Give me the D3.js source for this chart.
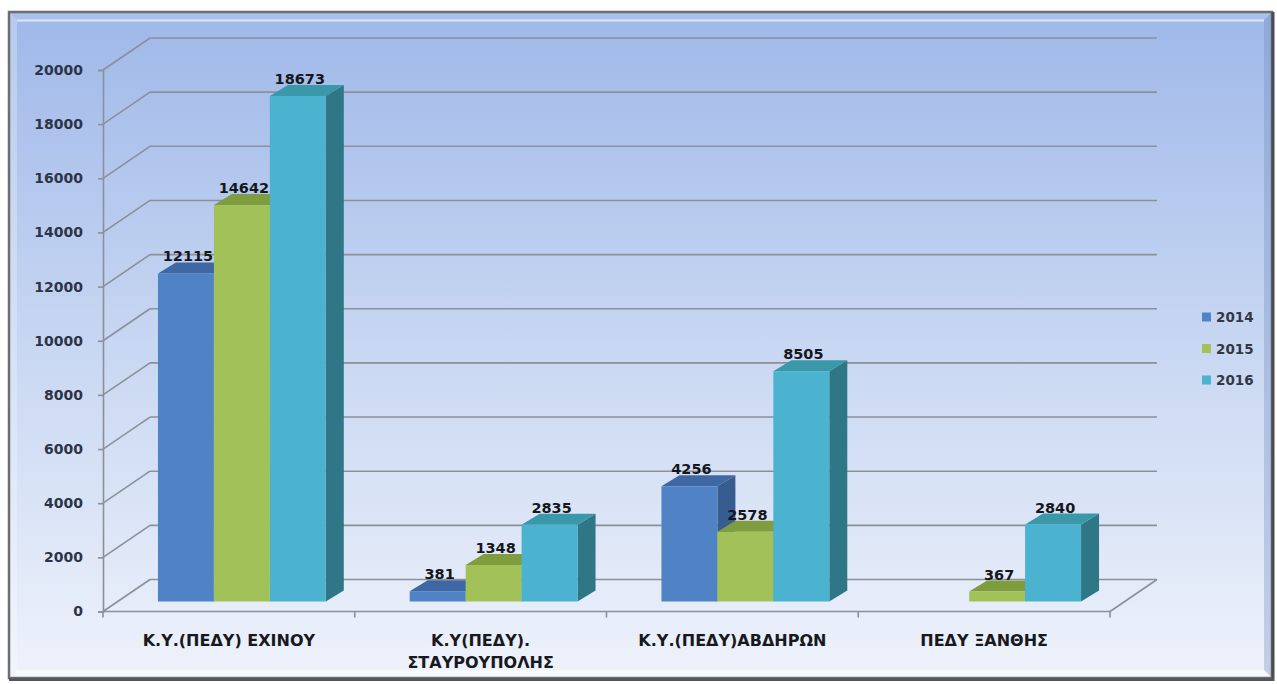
<!DOCTYPE html>
<html>
<head>
<meta charset="utf-8">
<script src="https://cdn.jsdelivr.net/npm/d3@7"></script>
<style>
  html, body { margin: 0; padding: 0; background: #ffffff; }
  svg { display: block; }
</style>
</head>
<body>
<svg id="chart" width="1277" height="684"></svg>
<script>
// ---- data ----
const categoryLines = [
  ["Κ.Υ.(ΠΕΔΥ) ΕΧΙΝΟΥ"],
  ["Κ.Υ(ΠΕΔΥ).", "ΣΤΑΥΡΟΥΠΟΛΗΣ"],
  ["Κ.Υ.(ΠΕΔΥ)ΑΒΔΗΡΩΝ"],
  ["ΠΕΔΥ ΞΑΝΘΗΣ"]
];
const categories = categoryLines.map(l => l.join(" "));
const years = ["2014", "2015", "2016"];
const values2014 = [12115, 381, 4256, null];
const values2015 = [14642, 1348, 2578, 367];
const values2016 = [18673, 2835, 8505, 2840];
const yTicks = [0, 2000, 4000, 6000, 8000, 10000, 12000, 14000, 16000, 18000, 20000];

const seriesValues = [values2014, values2015, values2016];

// face colours per series: front, top, side
const palette = {
  "2014": { front: "#4f83c6", top: "#3e67a3", side: "#375d90" },
  "2015": { front: "#a2c259", top: "#7f9c3e", side: "#6d8834" },
  "2016": { front: "#4bb3cf", top: "#3a98a8", side: "#2f7687" }
};

// ---- layout ----
const svg = d3.select("#chart");

const plotLeft = 103, plotRight = 1110;
const wallDepth = { dx: 47, dy: -32 };     // offset of back wall from front plane
const barFront = { dx: 13, dy: -10 };      // bar front face offset from front plane
const barDepth = { dx: 18, dy: -11 };      // bar thickness in depth

const x = d3.scaleBand().domain(categories).range([plotLeft, plotRight]).padding(0);
const xInner = d3.scaleBand().domain(years).range([0, x.bandwidth()]).paddingInner(0).paddingOuter(0.75);
const y = d3.scaleLinear().domain([0, 20000]).range([611.5, 70]);

// ---- frame & background ----
const defs = svg.append("defs");
const bg = defs.append("linearGradient").attr("id", "bg").attr("x1", 0).attr("y1", 0).attr("x2", 0).attr("y2", 1);
bg.append("stop").attr("offset", "0%").attr("stop-color", "#9fb8e9");
bg.append("stop").attr("offset", "45%").attr("stop-color", "#c4d4f1");
bg.append("stop").attr("offset", "100%").attr("stop-color", "#eef2fb");

const fx0 = 9, fy0 = 12, fx1 = 1272, fy1 = 678, bev = 8;
svg.append("rect")
  .attr("x", fx0).attr("y", fy0).attr("width", fx1 - fx0).attr("height", fy1 - fy0)
  .attr("fill", "url(#bg)");

// bevel strips round the inner edge
const bevel = [
  { pts: [[fx0, fy0], [fx1, fy0], [fx1 - bev, fy0 + bev], [fx0 + bev, fy0 + bev]], fill: "#a9c0ec", op: 1 },
  { pts: [[fx0, fy0], [fx0 + bev, fy0 + bev], [fx0 + bev, fy1 - bev], [fx0, fy1]], fill: "#ffffff", op: 0.25 },
  { pts: [[fx1, fy0], [fx1, fy1], [fx1 - bev, fy1 - bev], [fx1 - bev, fy0 + bev]], fill: "#6f8cc4", op: 0.35 },
  { pts: [[fx0, fy1], [fx0 + bev, fy1 - bev], [fx1 - bev, fy1 - bev], [fx1, fy1]], fill: "#ffffff", op: 0.55 }
];
svg.append("g").selectAll("polygon").data(bevel).join("polygon")
  .attr("points", d => d.pts.map(p => p.join(",")).join(" "))
  .attr("fill", d => d.fill).attr("fill-opacity", d => d.op);
svg.append("line")
  .attr("x1", fx0 + bev).attr("x2", fx1 - bev).attr("y1", fy0 + bev + 0.5).attr("y2", fy0 + bev + 0.5)
  .attr("stroke", "#dbe6fb").attr("stroke-width", 2);

svg.append("rect")
  .attr("x", fx0).attr("y", fy0).attr("width", fx1 - fx0).attr("height", fy1 - fy0)
  .attr("fill", "none").attr("stroke", "#6c6e72").attr("stroke-width", 2.5);
svg.append("line").attr("x1", fx1 + 1).attr("x2", fx1 + 1).attr("y1", fy0).attr("y2", fy1 + 3)
  .attr("stroke", "#4a4c50").attr("stroke-width", 3);
svg.append("line").attr("x1", fx0).attr("x2", fx1 + 2).attr("y1", fy1 + 1.5).attr("y2", fy1 + 1.5)
  .attr("stroke", "#55575b").attr("stroke-width", 3);

// ---- walls & gridlines ----
const gridColor = "#8b9099";
const grid = svg.append("g").attr("fill", "none").attr("stroke", gridColor).attr("stroke-width", 1.6);

// back wall horizontal lines
grid.selectAll("line.back").data(yTicks).join("line").attr("class", "back")
  .attr("x1", plotLeft + wallDepth.dx).attr("x2", plotRight + wallDepth.dx)
  .attr("y1", d => y(d) + wallDepth.dy).attr("y2", d => y(d) + wallDepth.dy);
// side wall diagonals
grid.selectAll("line.side").data(yTicks).join("line").attr("class", "side")
  .attr("x1", plotLeft).attr("x2", plotLeft + wallDepth.dx)
  .attr("y1", d => y(d)).attr("y2", d => y(d) + wallDepth.dy);
// floor: front edge and right edge
grid.append("line")
  .attr("x1", plotLeft).attr("x2", plotRight).attr("y1", y(0)).attr("y2", y(0));
grid.append("line")
  .attr("x1", plotRight).attr("x2", plotRight + wallDepth.dx)
  .attr("y1", y(0)).attr("y2", y(0) + wallDepth.dy);

// ---- y axis ----
const yAxis = d3.axisLeft(y).tickValues(yTicks).tickSize(5).tickPadding(15).tickFormat(d3.format("d"));
const yAxisG = svg.append("g").attr("transform", `translate(${plotLeft},0)`).call(yAxis);
yAxisG.select(".domain").attr("stroke", gridColor).attr("stroke-width", 1.6);
yAxisG.selectAll(".tick line").attr("stroke", gridColor).attr("stroke-width", 1.6);
yAxisG.selectAll(".tick text")
  .attr("fill", "#2c3448")
  .style("font-family", "'DejaVu Sans', sans-serif")
  .style("font-weight", "bold")
  .style("font-size", "14px");

// category boundary ticks below the floor
const boundaries = categories.map(c => x(c)).concat([plotRight]);
grid.selectAll("line.ctick").data(boundaries).join("line").attr("class", "ctick")
  .attr("x1", d => d).attr("x2", d => d).attr("y1", y(0)).attr("y2", y(0) + 6);

// ---- bars ----
const bars = [];
categories.forEach((c, ci) => {
  years.forEach((yr, si) => {
    const v = seriesValues[si][ci];
    if (v == null) return;
    bars.push({ cat: c, year: yr, value: v });
  });
});

const barG = svg.append("g");
bars.forEach(b => {
  const x0 = x(b.cat) + xInner(b.year) + barFront.dx;
  const x1 = x0 + xInner.bandwidth();
  const yb = y(0) + barFront.dy;
  const yt = y(b.value) + barFront.dy;
  const dx = barDepth.dx, dy = barDepth.dy;
  const col = palette[b.year];
  const g = barG.append("g");
  // right side face
  g.append("polygon")
    .attr("points", [[x1, yb], [x1, yt], [x1 + dx, yt + dy], [x1 + dx, yb + dy]].map(p => p.join(",")).join(" "))
    .attr("fill", col.side);
  // top face
  g.append("polygon")
    .attr("points", [[x0, yt], [x1, yt], [x1 + dx, yt + dy], [x0 + dx, yt + dy]].map(p => p.join(",")).join(" "))
    .attr("fill", col.top);
  // front face
  g.append("rect")
    .attr("x", x0).attr("y", yt).attr("width", x1 - x0).attr("height", yb - yt)
    .attr("fill", col.front);
});

// value labels
svg.append("g").selectAll("text").data(bars).join("text")
  .attr("x", d => x(d.cat) + xInner(d.year) + barFront.dx + xInner.bandwidth() / 2 + 2)
  .attr("y", d => y(d.value) + barFront.dy - 12)
  .attr("text-anchor", "middle")
  .attr("fill", "#15171c")
  .style("font-family", "'DejaVu Sans', sans-serif")
  .style("font-weight", "bold")
  .style("font-size", "14.5px")
  .text(d => d.value);

// ---- category labels ----
const catG = svg.append("g");
categories.forEach((c, ci) => {
  const t = catG.append("text")
    .attr("x", x(c) + x.bandwidth() / 2)
    .attr("y", 646)
    .attr("text-anchor", "middle")
    .attr("fill", "#17191e")
    .style("font-family", "'DejaVu Sans', sans-serif")
    .style("font-weight", "bold")
    .style("font-size", "16px");
  categoryLines[ci].forEach((line, li) => {
    t.append("tspan").attr("x", x(c) + x.bandwidth() / 2).attr("dy", li === 0 ? 0 : 22).text(line);
  });
});

// ---- legend ----
const legend = svg.append("g").attr("transform", "translate(1202,317)");
const item = legend.selectAll("g").data(years).join("g")
  .attr("transform", (d, i) => `translate(0,${i * 31.5})`);
item.append("rect").attr("x", 0).attr("y", -4.5).attr("width", 9).attr("height", 9)
  .attr("fill", d => palette[d].front);
item.append("text").attr("x", 14).attr("y", 5)
  .attr("fill", "#333845")
  .style("font-family", "'DejaVu Sans', sans-serif")
  .style("font-weight", "bold")
  .style("font-size", "13.5px")
  .text(d => d);
</script>
</body>
</html>
